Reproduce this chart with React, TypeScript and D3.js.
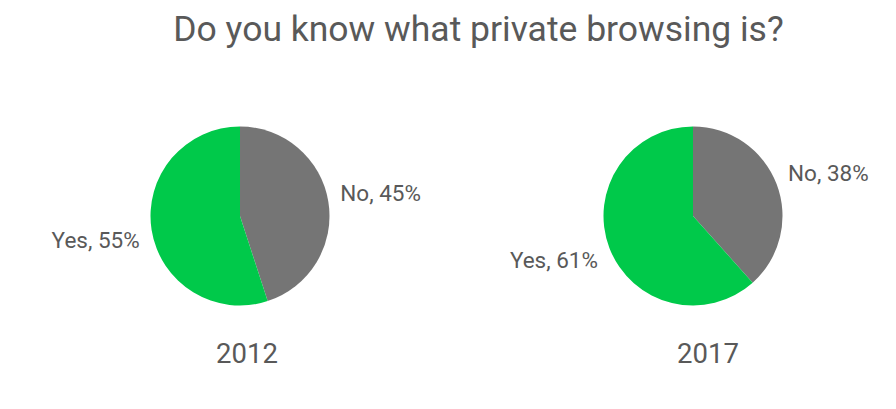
import React from "react";
import * as d3 from "d3";

const title = "Do you know what private browsing is?";
const years = ["2012", "2017"];
const categories = ["No", "Yes"];
const values2012 = [45, 55];
const values2017 = [38, 61];
const seriesValues = [values2012, values2017];
const colors = ["#757575", "#00c94a"];

const W = 896;
const H = 409;

export default function App() {
  const pieCenters = d3.scalePoint<string>().domain(years).range([240, 693]);
  const r = 89.5;
  const cy = 216;
  const pie = d3.pie<number>().sort(null).value((d) => d);
  const arc = d3.arc<d3.PieArcDatum<number>>().innerRadius(0).outerRadius(r);
  const color = d3.scaleOrdinal<string, string>().domain(categories).range(colors);
  const yearOffset = [7, 15];

  return (
    <svg
      width={W}
      height={H}
      style={{ position: "absolute", left: 0, top: 0, background: "#fff" }}
      fontFamily="Roboto, sans-serif"
    >
      <text x={478.5} y={40.5} textAnchor="middle" fontSize={35.5} fill="#595959">
        {title}
      </text>
      {years.map((yr, yi) => {
        const cx = pieCenters(yr)!;
        const arcs = pie(seriesValues[yi]);
        return (
          <g key={yr}>
            <g transform={`translate(${cx},${cy})`}>
              {arcs.map((a, i) => (
                <path key={i} d={arc(a)!} fill={color(categories[i])} />
              ))}
              {arcs.map((a, i) => {
                const mid = (a.startAngle + a.endAngle) / 2;
                const lr = r + 9;
                const x = lr * Math.sin(mid);
                const y = -lr * Math.cos(mid);
                const right = x > 0;
                return (
                  <text
                    key={"l" + i}
                    x={right ? x + 3 : x - 3}
                    y={right ? y : y + 17}
                    textAnchor={right ? "start" : "end"}
                    fontSize={22.5}
                    fill="#595959"
                  >
                    {`${categories[i]}, ${seriesValues[yi][i]}%`}
                  </text>
                );
              })}
            </g>
            <text x={cx + yearOffset[yi]} y={362.5} textAnchor="middle" fontSize={27.5} fill="#595959">
              {yr}
            </text>
          </g>
        );
      })}
    </svg>
  );
}
